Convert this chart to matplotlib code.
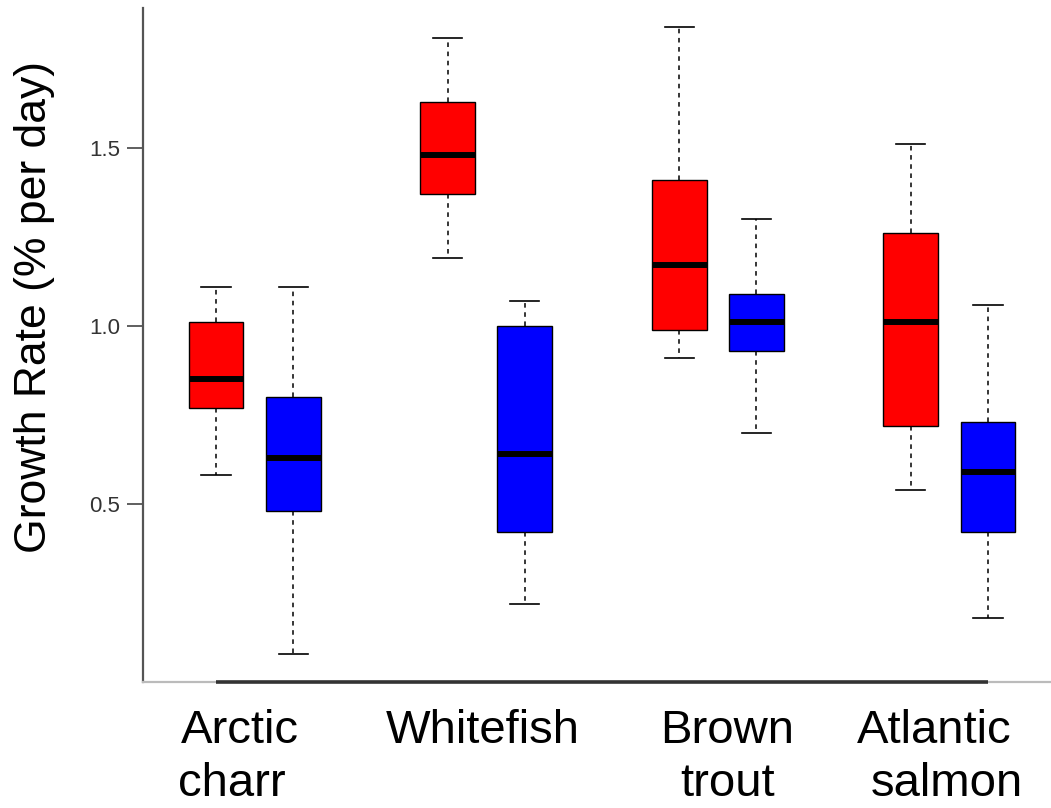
"""
Growth rate box plot, red vs blue per species.
"""

import matplotlib

matplotlib.use("Agg")
import matplotlib.pyplot as plt
import matplotlib.transforms as mtransforms

plt.rcParams["font.family"] = ["Liberation Sans", "DejaVu Sans"]

# box summaries (growth rate, % per day)
species = ["Arctic charr", "Whitefish", "Brown trout", "Atlantic salmon"]
red_whislo = [0.58, 1.19, 0.91, 0.54]
red_q1 = [0.77, 1.37, 0.99, 0.72]
red_med = [0.85, 1.48, 1.17, 1.01]
red_q3 = [1.01, 1.63, 1.41, 1.26]
red_whishi = [1.11, 1.81, 1.84, 1.51]

blue_whislo = [0.08, 0.22, 0.70, 0.18]
blue_q1 = [0.48, 0.42, 0.93, 0.42]
blue_med = [0.63, 0.64, 1.01, 0.59]
blue_q3 = [0.80, 1.00, 1.09, 0.73]
blue_whishi = [1.11, 1.07, 1.30, 1.06]

y_ticks = [0.5, 1.0, 1.5]
y_label = "Growth Rate (% per day)"


def make_stats(lo, q1, med, q3, hi):
    return [
        {"whislo": a, "q1": b, "med": c, "q3": d, "whishi": e, "fliers": []}
        for a, b, c, d, e in zip(lo, q1, med, q3, hi)
    ]


fig = plt.figure(figsize=(10.51, 8.08), dpi=100)
ax = fig.add_axes([143 / 1051, 1 - 682 / 808, 1 - 143 / 1051, (682 - 8) / 808])

red_pos = [1 + 3 * i for i in range(len(species))]
blue_pos = [p + 1 for p in red_pos]

common = dict(
    widths=0.71,
    patch_artist=True,
    showfliers=False,
    medianprops=dict(color="black", linewidth=4.3, solid_capstyle="butt"),
    whiskerprops=dict(color="black", linewidth=1.1, linestyle=(0, (3, 3))),
    capprops=dict(color="black", linewidth=1.2),
    capwidths=0.38,
)
ax.bxp(make_stats(red_whislo, red_q1, red_med, red_q3, red_whishi),
       positions=red_pos,
       boxprops=dict(facecolor="#ff0000", edgecolor="black", linewidth=1.0),
       **common)
ax.bxp(make_stats(blue_whislo, blue_q1, blue_med, blue_q3, blue_whishi),
       positions=blue_pos,
       boxprops=dict(facecolor="#0000ff", edgecolor="black", linewidth=1.0),
       **common)

ax.set_xlim(0.054, 11.816)
ax.set_ylim(0.0, 1.893)

ax.spines["top"].set_visible(False)
ax.spines["right"].set_visible(False)
ax.spines["left"].set_color("#555555")
ax.spines["left"].set_linewidth(1.6)
ax.spines["bottom"].set_color("#bbbbbb")
ax.spines["bottom"].set_linewidth(1.6)
# R style axis line from first to last box
ax.plot([red_pos[0], blue_pos[-1]], [0, 0], color="#333333", linewidth=2.6,
        clip_on=False, solid_capstyle="butt", zorder=5)

ax.set_xticks([])
ax.set_yticks(y_ticks)
ax.set_yticklabels([f"{t:.1f}" for t in y_ticks])
ax.tick_params(axis="y", direction="out", length=11.5, width=1.2, color="#444444",
               labelcolor="#333333", labelsize=16, pad=5)

fig.text(35 / 1051, 1 - 307 / 808, y_label, rotation=90, ha="center",
         va="center", fontsize=32, color="black")

# category labels, one text per line as in the original layout
# (x in box-position units, baseline in pixels from the top)
trans = mtransforms.blended_transform_factory(ax.transData, fig.transFigure)
label_lines = [
    ("Arctic", 1.31, 743), ("charr", 1.20, 796),
    ("Whitefish", 4.45, 743),
    ("Brown", 7.62, 743), ("trout", 7.63, 796),
    ("Atlantic", 10.30, 743), ("salmon", 10.47, 796),
]
for txt, x, ybase in label_lines:
    ax.text(x, 1 - ybase / 808, txt, transform=trans, ha="center",
            va="baseline", fontsize=34, color="black")

fig.savefig("out.png", dpi=100)
